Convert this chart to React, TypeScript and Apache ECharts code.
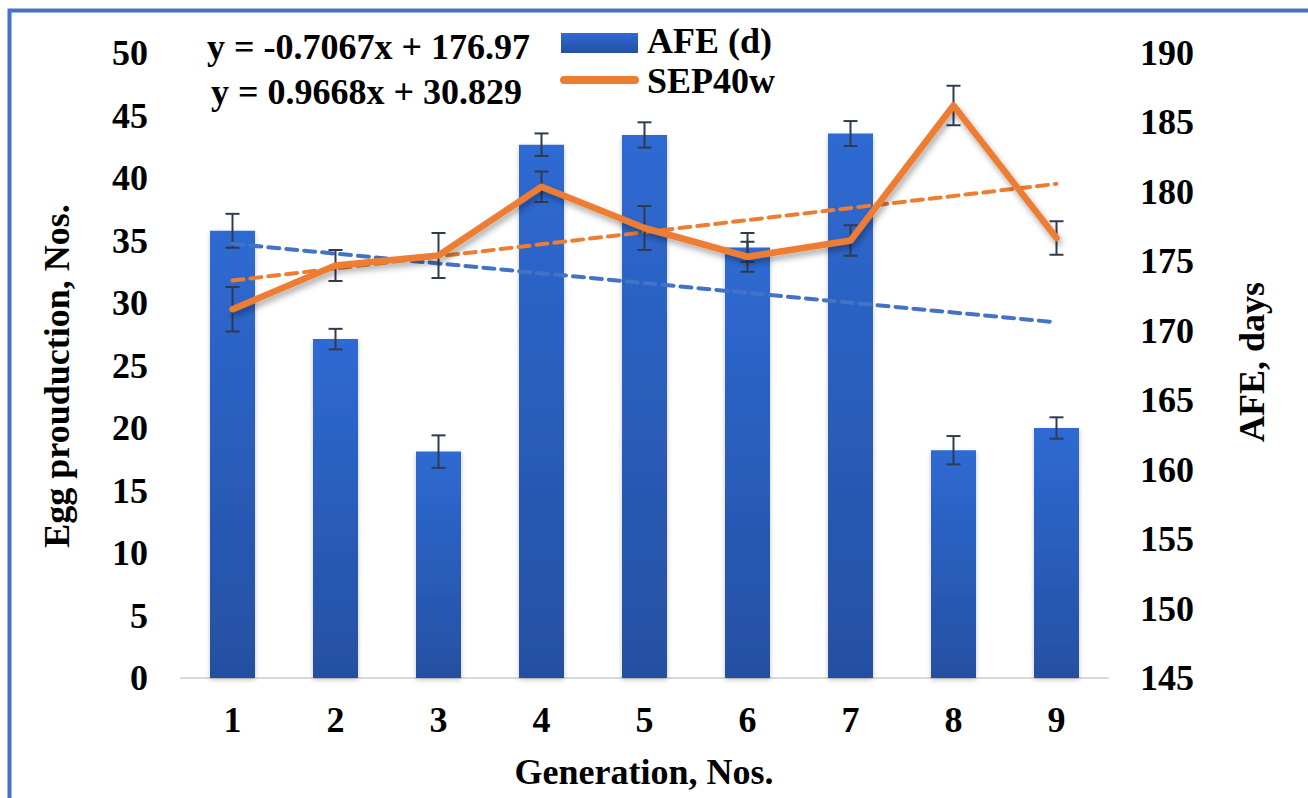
import React, { useEffect, useRef } from "react";
import * as echarts from "echarts";

const categories = ["1", "2", "3", "4", "5", "6", "7", "8", "9"];
const afeDays = [177.2, 169.4, 161.3, 183.4, 184.1, 176.0, 184.2, 161.4, 163.0];
const afeErr = [1.22, 0.74, 1.17, 0.81, 0.91, 1.04, 0.9, 1.02, 0.77];
const sep40w = [29.5, 33.0, 33.8, 39.3, 36.0, 33.7, 35.0, 45.8, 35.2];
const sepErr = [1.78, 1.24, 1.8, 1.22, 1.76, 1.2, 1.22, 1.58, 1.34];
// trend line end points (at generation 1 and 9), from the displayed equations
const afeTrend = [176.26, 170.61];
const sepTrend = [31.8, 39.53];
const afeEquation = "y = -0.7067x + 176.97";
const sepEquation = "y = 0.9668x + 30.829";
const seriesNames = ["AFE (d)", "SEP40w"];
const leftTicks = { min: 0, max: 50, interval: 5 };
const rightTicks = { min: 145, max: 190, interval: 5 };

const FONT = "'Liberation Serif', 'Times New Roman', serif";
const ERR_COLOR = "#2F3B4E";
const ORANGE = "#ED7D31";

function barGradient() {
  return new echarts.graphic.LinearGradient(0, 0, 0, 1, [
    { offset: 0, color: "#2F6AD3" },
    { offset: 1, color: "#2450A2" },
  ]);
}

function errorRender(params: any, api: any) {
  const x = api.value(0);
  const lo = api.coord([x, api.value(1)]);
  const hi = api.coord([x, api.value(2)]);
  const cap = 7;
  const style = { stroke: ERR_COLOR, lineWidth: 2 };
  return {
    type: "group",
    children: [
      { type: "line", shape: { x1: lo[0], y1: lo[1], x2: hi[0], y2: hi[1] }, style },
      { type: "line", shape: { x1: lo[0] - cap, y1: lo[1], x2: lo[0] + cap, y2: lo[1] }, style },
      { type: "line", shape: { x1: hi[0] - cap, y1: hi[1], x2: hi[0] + cap, y2: hi[1] }, style },
    ],
  };
}

export default function App() {
  const ref = useRef<HTMLDivElement>(null);
  useEffect(() => {
    if (!ref.current) return;
    const chart = echarts.init(ref.current, undefined, { renderer: "svg" });
    const labelStyle = { color: "#000", fontFamily: FONT, fontWeight: "bold" as const, fontSize: 36 };
    const textFont = `bold 36px ${FONT}`;
    chart.setOption({
      animation: false,
      backgroundColor: "#fff",
      grid: { left: 181, right: 200, top: 53, bottom: 120 },
      xAxis: {
        type: "category",
        data: categories,
        axisTick: { show: false },
        axisLine: { lineStyle: { color: "#D9D9D9", width: 2 } },
        axisLabel: { ...labelStyle, margin: 24 },
      },
      yAxis: [
        {
          type: "value",
          ...leftTicks,
          splitLine: { show: false },
          axisLine: { show: false },
          axisTick: { show: false },
          axisLabel: { ...labelStyle, margin: 33 },
        },
        {
          type: "value",
          ...rightTicks,
          splitLine: { show: false },
          axisLine: { show: false },
          axisTick: { show: false },
          axisLabel: { ...labelStyle, margin: 32 },
        },
      ],
      graphic: [
        {
          type: "rect",
          shape: { x: 9.5, y: 10.5, width: 1400, height: 900 },
          style: { fill: "none", stroke: "#4472C4", lineWidth: 4 },
          silent: true,
        },
        {
          type: "text",
          x: 57,
          y: 376,
          rotation: Math.PI / 2,
          style: { text: "Egg prouduction, Nos.", font: textFont, fill: "#000", textAlign: "center", textVerticalAlign: "middle" },
        },
        {
          type: "text",
          x: 1252,
          y: 362,
          rotation: Math.PI / 2,
          style: { text: "AFE, days", font: textFont, fill: "#000", textAlign: "center", textVerticalAlign: "middle" },
        },
        {
          type: "text",
          x: 644,
          y: 772,
          style: { text: "Generation, Nos.", font: textFont, fill: "#000", textAlign: "center", textVerticalAlign: "middle" },
        },
        {
          type: "text",
          x: 207,
          y: 47,
          style: { text: afeEquation, font: textFont, lineHeight: 34, fill: "#000", textAlign: "left", textVerticalAlign: "middle" },
        },
        {
          type: "text",
          x: 211,
          y: 92,
          style: { text: sepEquation, font: textFont, lineHeight: 34, fill: "#000", textAlign: "left", textVerticalAlign: "middle" },
        },
        // legend
        {
          type: "rect",
          shape: { x: 561, y: 33, width: 77, height: 20 },
          style: { fill: barGradient() },
        },
        {
          type: "text",
          x: 647,
          y: 40.5,
          style: { text: seriesNames[0], font: textFont, lineHeight: 32, fill: "#000", textAlign: "left", textVerticalAlign: "middle" },
        },
        {
          type: "line",
          shape: { x1: 564, y1: 80, x2: 635, y2: 80 },
          style: { stroke: ORANGE, lineWidth: 8, lineCap: "round" },
        },
        {
          type: "text",
          x: 647,
          y: 81,
          style: { text: seriesNames[1], font: textFont, lineHeight: 32, fill: "#000", textAlign: "left", textVerticalAlign: "middle" },
        },
      ],
      series: [
        {
          name: seriesNames[0],
          type: "bar",
          yAxisIndex: 1,
          barWidth: 45,
          z: 2,
          data: afeDays,
          itemStyle: {
            color: barGradient(),
            shadowColor: "rgba(0,0,0,0.22)",
            shadowBlur: 5,
            shadowOffsetY: 2,
          },
        },
        {
          name: "afeErr",
          type: "custom",
          yAxisIndex: 1,
          z: 3,
          renderItem: errorRender,
          data: afeDays.map((v, i) => [i, v - afeErr[i], v + afeErr[i]]),
        },
        {
          name: "afeTrend",
          type: "line",
          yAxisIndex: 1,
          z: 4,
          symbol: "none",
          data: [
            [categories[0], afeTrend[0]],
            [categories[categories.length - 1], afeTrend[1]],
          ],
          lineStyle: { color: "#4472C4", width: 4, type: [11, 7], cap: "round" },
        },
        {
          name: "sepTrend",
          type: "line",
          yAxisIndex: 0,
          z: 4,
          symbol: "none",
          data: [
            [categories[0], sepTrend[0]],
            [categories[categories.length - 1], sepTrend[1]],
          ],
          lineStyle: { color: ORANGE, width: 4, type: [11, 7], cap: "round" },
        },
        {
          name: "sepErr",
          type: "custom",
          yAxisIndex: 0,
          z: 5,
          renderItem: errorRender,
          data: sep40w.map((v, i) => [i, v - sepErr[i], v + sepErr[i]]),
        },
        {
          name: seriesNames[1],
          type: "line",
          yAxisIndex: 0,
          z: 6,
          symbol: "none",
          color: ORANGE,
          data: sep40w,
          lineStyle: {
            color: ORANGE,
            width: 6.5,
            cap: "round",
            join: "round",
            shadowColor: "rgba(0,0,0,0.35)",
            shadowBlur: 6,
            shadowOffsetX: 2,
            shadowOffsetY: 4,
          },
        },
      ],
    });
    return () => chart.dispose();
  }, []);
  return (
    <div
      ref={ref}
      style={{ position: "absolute", left: 0, top: 0, width: 1308, height: 798 }}
    />
  );
}
